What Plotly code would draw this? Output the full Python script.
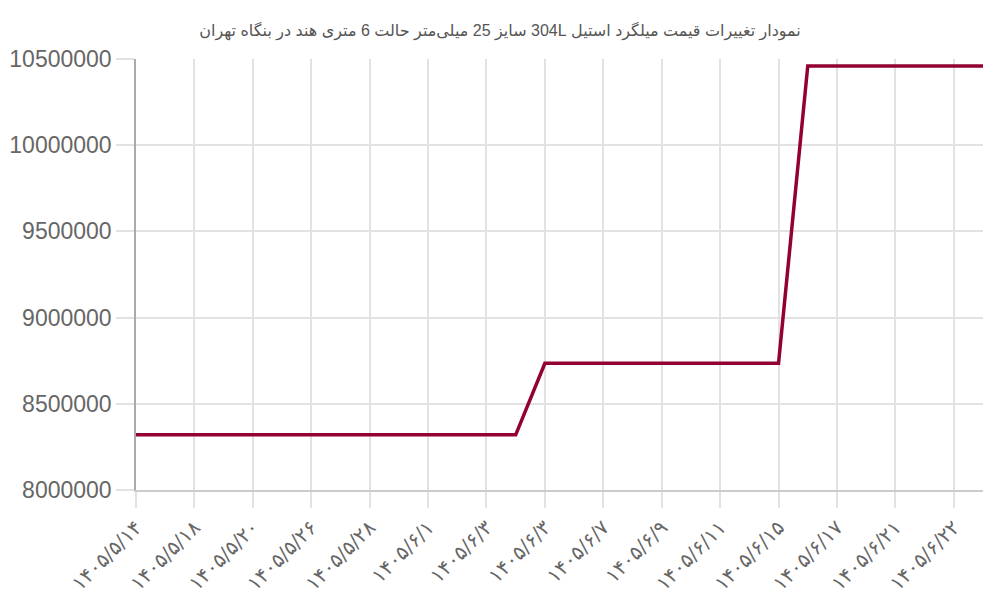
import plotly.graph_objects as go

# Price history (Rial) for one entry per row, dates in Jalali calendar
dates = [
    '۱۴۰۵/۵/۱۴', '۱۴۰۵/۵/۱۵', '۱۴۰۵/۵/۱۸', '۱۴۰۵/۵/۱۹',
    '۱۴۰۵/۵/۲۰', '۱۴۰۵/۵/۲۵', '۱۴۰۵/۵/۲۶', '۱۴۰۵/۵/۲۷',
    '۱۴۰۵/۵/۲۸', '۱۴۰۵/۵/۳۱', '۱۴۰۵/۶/۱', '۱۴۰۵/۶/۲',
    '۱۴۰۵/۶/۳', '۱۴۰۵/۶/۳', '۱۴۰۵/۶/۳', '۱۴۰۵/۶/۴',
    '۱۴۰۵/۶/۷', '۱۴۰۵/۶/۸', '۱۴۰۵/۶/۹', '۱۴۰۵/۶/۱۰',
    '۱۴۰۵/۶/۱۱', '۱۴۰۵/۶/۱۴', '۱۴۰۵/۶/۱۵', '۱۴۰۵/۶/۱۶',
    '۱۴۰۵/۶/۱۷', '۱۴۰۵/۶/۱۸', '۱۴۰۵/۶/۲۱', '۱۴۰۵/۶/۲۱',
    '۱۴۰۵/۶/۲۲', '۱۴۰۵/۶/۲۲',
]
prices = [
    8320000, 8320000, 8320000, 8320000, 8320000, 8320000, 8320000,
    8320000, 8320000, 8320000, 8320000, 8320000, 8320000, 8320000,
    8735000, 8735000, 8735000, 8735000, 8735000, 8735000, 8735000,
    8735000, 8735000, 10460000, 10460000, 10460000, 10460000,
    10460000, 10460000, 10460000,
]
y_ticks = [8000000, 8500000, 9000000, 9500000, 10000000, 10500000]

title = 'نمودار تغییرات قیمت میلگرد استیل 304L سایز 25 میلی‌متر حالت 6 متری هند در بنگاه تهران'

idx = list(range(len(dates)))

fig = go.Figure()
fig.add_trace(go.Scatter(
    x=idx,
    y=prices,
    mode='lines',
    line=dict(color='#930034', width=3.5),
    hoverinfo='y',
))

# the page body has an 8px default margin, so margins are offset by that
fig.update_layout(
    width=1000,
    height=600,
    margin=dict(l=128, r=25, t=51, b=118, autoexpand=False),
    paper_bgcolor='white',
    plot_bgcolor='white',
    showlegend=False,
    title=dict(
        # wrap in RTL embedding so the mixed Persian/Latin title reads right to left
        text='\u202b' + title + '\u202c',
        x=0.492, xanchor='center',
        y=0.963, yanchor='middle',
        font=dict(family='Liberation Sans, DejaVu Sans', size=16, color='#555'),
    ),
)

fig.update_xaxes(
    range=[0, len(dates) - 1],
    tickvals=idx[::2],
    ticktext=dates[::2],
    tickangle=-45,
    tickfont=dict(family='DejaVu Sans', size=20, color='#666'),
    showgrid=True,
    gridcolor='#e2e2e2',
    gridwidth=1.5,
    ticks='outside',
    ticklen=16,
    tickcolor='#e2e2e2',
    tickwidth=1.5,
    showline=True,
    linecolor='#cccccc',
    linewidth=1.5,
    zeroline=False,
    automargin=False,
)

fig.update_yaxes(
    range=[8000000, 10500000],
    tickvals=y_ticks,
    ticktext=[str(v) for v in y_ticks],
    tickfont=dict(family='Liberation Sans, Arial', size=23, color='#666'),
    showgrid=True,
    gridcolor='#e2e2e2',
    gridwidth=1.5,
    ticks='outside',
    ticklen=18,
    tickcolor='#e2e2e2',
    tickwidth=1.5,
    showline=True,
    linecolor='#aaaaaa',
    linewidth=1.5,
    zeroline=False,
    automargin=False,
)

fig.write_html('out.html')
